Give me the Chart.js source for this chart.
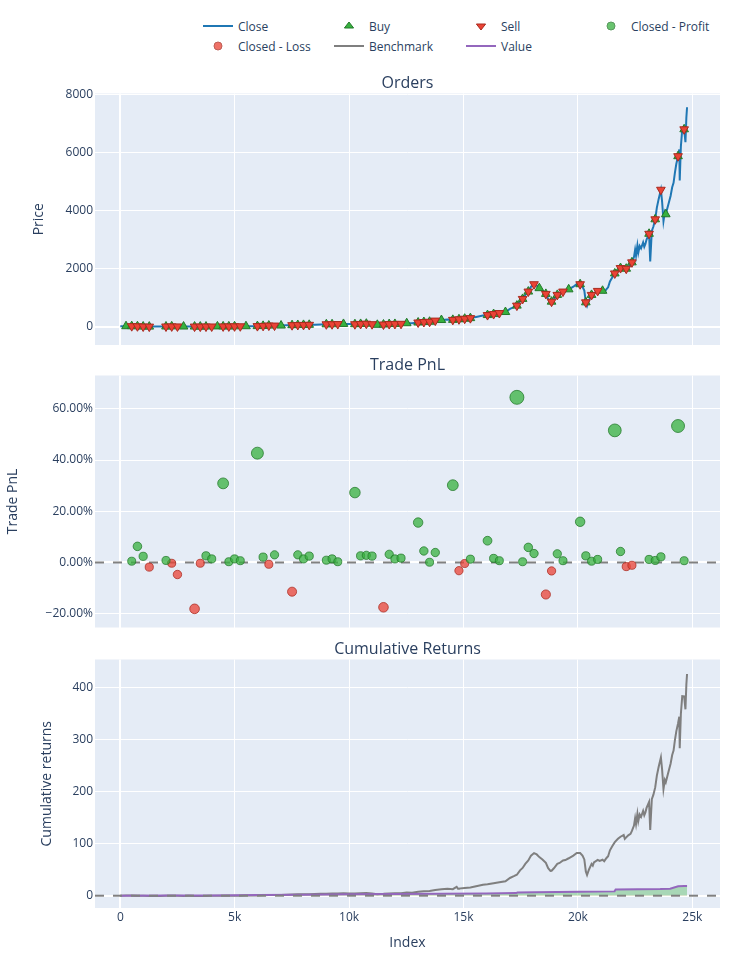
<!DOCTYPE html>
<html>
<head>
  <title>Portfolio Orders, Trade PnL and Cumulative Returns</title>
  <script src="https://cdn.jsdelivr.net/npm/chart.js"></script>
  <style>
    body { margin: 0; background: #fff; font-family: "Open Sans", verdana, arial, sans-serif; color: #2a3f5f; }
    #page { position: relative; width: 750px; height: 960px; overflow: hidden; }
    #page canvas { position: absolute; left: 0; }
    .legend-item { position: absolute; height: 20px; display: flex; align-items: center; font-size: 12px; white-space: nowrap; }
    .legend-item svg { display: block; }
  </style>
</head>
<body>
<div id="page">
  <div id="legend"></div>
  <canvas id="orders-chart" width="750" height="297" style="top:60px"></canvas>
  <canvas id="pnl-chart" width="750" height="298" style="top:342px"></canvas>
  <canvas id="returns-chart" width="750" height="334" style="top:626px"></canvas>
</div>
<script>
  // Close price (index, price)
  const closeIdx = [
    0, 250, 500, 750, 1000, 1266, 1500, 1750, 1997, 2247,
    2497, 2764, 3000, 3246, 3495, 3745, 3994, 4244, 4494, 4743,
    4993, 5243, 5492, 5750, 5992, 6241, 6491, 6741, 7026, 7250,
    7507, 7757, 8007, 8256, 8500, 8750, 9005, 9255, 9505, 9754,
    10000, 10254, 10503, 10753, 11003, 11234, 11502, 11752, 12002, 12269,
    12518, 12750, 13017, 13267, 13517, 13766, 14034, 14300, 14533, 14700,
    14760, 14801, 15051, 15300, 15600, 15850, 16049, 16316, 16566, 16833,
    17030, 17200, 17333, 17470, 17583, 17700, 17832, 17950, 18082, 18200,
    18313, 18450, 18599, 18700, 18800, 18849, 18950, 19099, 19200, 19348,
    19450, 19597, 19800, 19950, 20097, 20200, 20280, 20346, 20400, 20480,
    20596, 20650, 20700, 20863, 20950, 21077, 21150, 21250, 21320, 21400,
    21500, 21612, 21750, 21862, 22000, 22050, 22112, 22200, 22300, 22361,
    22450, 22500, 22540, 22600, 22640, 22700, 22760, 22850, 22900, 22950,
    23000, 23110, 23160, 23230, 23300, 23378, 23450, 23530, 23627, 23680,
    23740, 23800, 23841, 23900, 23950, 24050, 24120, 24180, 24240, 24300,
    24376, 24430, 24450, 24500, 24560, 24643, 24700, 24740, 24770
  ];
  const closeVal = [
    17.7, 22, 24, 20, 12, 8, 10, 11, 13, 16,
    15, 11, 12, 10, 9, 11, 13, 15, 16, 16,
    18, 20, 22, 24, 26, 34, 44, 44, 45, 52,
    58, 64, 67, 70, 75, 82, 88, 90, 96, 100,
    95, 91, 100, 108, 92, 70, 80, 96, 100, 105,
    125, 122, 150, 166, 175, 215, 235, 250, 240, 320,
    250, 260, 280, 300, 350, 390, 405, 440, 475, 510,
    620, 680, 730, 880, 960, 1100, 1213, 1380, 1466, 1420,
    1330, 1250, 1133, 950, 860, 866, 950, 1099, 1130, 1213,
    1230, 1290, 1380, 1470, 1466, 1380, 1250, 843, 720, 900,
    1099, 1040, 1150, 1236, 1200, 1240, 1190, 1300, 1360, 1560,
    1700, 1837, 1950, 2022, 2080, 1950, 2000, 2070, 2120, 2218,
    2400, 2650, 2450, 2800, 2550, 2780, 2700, 2900, 2750, 2850,
    3000, 3200, 2250, 3300, 3450, 3698, 4100, 4400, 4714, 4300,
    3640, 3950, 3871, 4050, 4200, 4500, 4800, 4950, 5300, 5600,
    5868, 6100, 5030, 6200, 6800, 6793, 6350, 7200, 7550
  ];

  // Closed trades: exit index, PnL (%) and the price of the sell order
  const tradeIdx = [
    499, 749, 999, 1266, 1997, 2247, 2497, 3246, 3495, 3745,
    3994, 4494, 4743, 4993, 5243, 5992, 6241, 6491, 6741, 7507,
    7757, 8007, 8256, 9005, 9255, 9505, 10254, 10503, 10753, 11003,
    11502, 11752, 12002, 12269, 13017, 13267, 13517, 13766, 14533, 14801,
    15051, 15300, 16049, 16316, 16566, 17333, 17583, 17832, 18082, 18599,
    18849, 19099, 19348, 20097, 20346, 20596, 20863, 21612, 21862, 22112,
    22361, 23110, 23378, 23627, 24376, 24643
  ];
  const tradePnl = [
    0.5, 6.3, 2.4, -1.8, 0.8, -0.3, -4.7, -18.1, -0.3, 2.6,
    1.4, 30.9, 0.3, 1.4, 0.7, 42.7, 2.1, -0.7, 3.0, -11.4,
    3.0, 1.4, 2.5, 0.9, 1.4, 0.3, 27.3, 2.6, 2.8, 2.5,
    -17.5, 3.2, 1.4, 1.7, 15.6, 4.5, 0.1, 3.9, 30.2, -3.2,
    -0.4, 1.3, 8.5, 1.6, 0.7, 64.5, 0.3, 5.9, 3.5, -12.5,
    -3.3, 3.4, 0.7, 15.9, 2.6, 0.5, 1.2, 51.6, 4.3, -1.6,
    -1.1, 1.2, 0.8, 2.2, 53.3, 0.7
  ];
  const sellPrice = [
    24, 20, 12, 8, 13, 16, 15, 10, 9, 11,
    13, 16, 16, 18, 20, 26, 34, 44, 44, 58,
    64, 67, 70, 88, 90, 96, 91, 100, 108, 92,
    80, 96, 100, 105, 150, 166, 175, 215, 240, 260,
    280, 300, 405, 440, 475, 730, 960, 1213, 1466, 1133,
    866, 1099, 1213, 1466, 843, 1099, 1236, 1837, 2022, 2000,
    2218, 3200, 3698, 4714, 5868, 6793
  ];

  // Buy orders
  const buyIdx = [
    250, 499, 749, 999, 1266, 1997, 2247, 2764, 3246, 3495,
    3745, 4244, 4494, 4743, 4993, 5492, 5992, 6241, 6491, 7026,
    7507, 7757, 8007, 8256, 9005, 9255, 9754, 10254, 10503, 10753,
    11234, 11502, 11752, 12002, 12518, 13017, 13267, 13517, 14034, 14533,
    14801, 15051, 15300, 16049, 16316, 16833, 17333, 17583, 17832, 18313,
    18599, 18849, 19099, 19597, 20097, 20346, 20596, 21077, 21612, 21862,
    22112, 22361, 23110, 23378, 23841, 24376, 24643
  ];
  const buyPrice = [
    22, 24, 20, 12, 8, 13, 16, 11, 10, 9,
    11, 15, 16, 16, 18, 22, 26, 34, 44, 45,
    58, 64, 67, 70, 88, 90, 100, 91, 100, 108,
    70, 80, 96, 100, 125, 150, 166, 175, 235, 240,
    260, 280, 300, 405, 440, 510, 730, 960, 1213, 1330,
    1133, 866, 1099, 1290, 1466, 843, 1099, 1240, 1837, 2022,
    2000, 2218, 3200, 3698, 3871, 5868, 6793
  ];

  // Strategy value, cumulative returns
  const valueIdx = [0, 2000, 4000, 6000, 8000, 10000, 12000, 14000, 16000, 17300, 17350, 18100, 20100, 21600, 21650, 23600, 24030, 24380, 24650, 24770];
  const valueRet = [0, 0.2, 0.6, 1.2, 2.0, 2.6, 3.2, 3.8, 4.4, 5.0, 6.0, 6.5, 7.5, 8.3, 12.0, 12.8, 13.5, 18.0, 18.5, 18.5];

  // Axis ticks
  const xTickVals = [0, 5000, 10000, 15000, 20000, 25000];
  const xTickText = ['0', '5k', '10k', '15k', '20k', '25k'];
  const priceTicks = [0, 2000, 4000, 6000, 8000];
  const pnlTicks = [-20, 0, 20, 40, 60];
  const retTicks = [0, 100, 200, 300, 400];

  const X_MIN = -1106, X_MAX = 26210;
  const GREEN = '#37b13f', GREEN_DARK = '#23782a';
  const RED = '#ea4335', RED_DARK = '#a92a1f';

  Chart.defaults.font.family = '"Open Sans", verdana, arial, sans-serif';
  Chart.defaults.font.size = 12;
  Chart.defaults.color = '#2a3f5f';
  Chart.defaults.animation = false;
  Chart.defaults.plugins.legend.display = false;
  Chart.defaults.plugins.tooltip.enabled = false;

  const plotBg = {
    id: 'plotBg',
    beforeDraw(chart) {
      const {ctx, chartArea: a} = chart;
      ctx.save();
      ctx.fillStyle = '#e5ecf6';
      ctx.fillRect(a.left, a.top, a.right - a.left, a.bottom - a.top);
      ctx.restore();
    }
  };

  const gridOpts = {
    color: '#fff',
    lineWidth: c => (c.tick && c.tick.value === 0) ? 2 : 1,
    drawTicks: false
  };

  // hidden-label x axes still keep room below the plot so the y labels never push the plot up
  function xAxis(withLabels) {
    return {
      type: 'linear', min: X_MIN, max: X_MAX,
      afterBuildTicks: s => { s.ticks = xTickVals.map(v => ({value: v})); },
      afterFit: s => {
        s.height = withLabels ? 52 : 12;
        s.paddingLeft = 0;
        s.paddingRight = 0;
      },
      grid: gridOpts,
      border: {display: false},
      ticks: {display: withLabels, padding: 2, maxRotation: 0, callback: v => xTickText[xTickVals.indexOf(v)]},
      title: {display: withLabels, text: 'Index', font: {size: 14}, padding: {top: 0, bottom: 8.6}}
    };
  }

  function yAxis(min, max, ticks, fmt, title, titlePad) {
    return {
      type: 'linear', min: min, max: max,
      afterBuildTicks: s => { s.ticks = ticks.map(v => ({value: v})); },
      afterFit: s => {
        s.width = 95;
        s.paddingTop = 0;
        s.paddingBottom = 0;
      },
      grid: gridOpts,
      border: {display: false},
      ticks: {padding: 2, callback: fmt},
      title: {display: true, text: title, font: {size: 14}, padding: {top: titlePad, bottom: 0}}
    };
  }

  function panelTitle(text) {
    return {display: true, text: text, fullSize: false, font: {size: 16, weight: 'normal'}, padding: {top: 14.3, bottom: 0}};
  }

  const toPoints = (xs, ys) => xs.map((x, i) => ({x: x, y: ys[i]}));

  // Orders
  new Chart(document.getElementById('orders-chart'), {
    type: 'scatter',
    data: {
      datasets: [{
        label: 'Sell',
        data: toPoints(tradeIdx, sellPrice),
        pointStyle: 'triangle', rotation: 180, pointRadius: 5,
        backgroundColor: RED, borderColor: RED_DARK, borderWidth: 1,
        order: 0
      }, {
        label: 'Buy',
        data: toPoints(buyIdx, buyPrice),
        pointStyle: 'triangle', pointRadius: 5,
        backgroundColor: GREEN, borderColor: GREEN_DARK, borderWidth: 1,
        order: 1
      }, {
        label: 'Close',
        data: toPoints(closeIdx, closeVal),
        showLine: true, pointRadius: 0,
        borderColor: '#1f77b4', borderWidth: 2,
        order: 2
      }]
    },
    options: {
      responsive: false,
      layout: {padding: {left: 0, right: 30, top: 0, bottom: 0}},
      plugins: {title: panelTitle('Orders')},
      scales: {
        x: xAxis(false),
        y: yAxis(-624, 8024, priceTicks, v => String(v), 'Price', 30.6)
      }
    },
    plugins: [plotBg]
  });

  // Trade PnL
  const maxPnl = Math.max(...tradePnl.map(Math.abs));
  const pnlRadius = c => 4 + 3 * Math.abs(c.raw.y) / maxPnl;
  const profitPts = toPoints(tradeIdx, tradePnl).filter(p => p.y >= 0);
  const lossPts = toPoints(tradeIdx, tradePnl).filter(p => p.y < 0);

  new Chart(document.getElementById('pnl-chart'), {
    type: 'scatter',
    data: {
      datasets: [{
        label: 'Closed - Profit',
        data: profitPts,
        pointRadius: pnlRadius,
        backgroundColor: 'rgba(55,177,63,0.75)', borderColor: 'rgba(35,120,42,0.75)', borderWidth: 1,
        order: 0
      }, {
        label: 'Closed - Loss',
        data: lossPts,
        pointRadius: pnlRadius,
        backgroundColor: 'rgba(234,67,53,0.75)', borderColor: 'rgba(169,42,31,0.75)', borderWidth: 1,
        order: 1
      }, {
        label: 'zero',
        data: [{x: X_MIN, y: 0}, {x: X_MAX, y: 0}],
        showLine: true, pointRadius: 0,
        borderColor: 'gray', borderWidth: 2, borderDash: [9, 9],
        order: 2
      }]
    },
    options: {
      responsive: false,
      layout: {padding: {left: 0, right: 30, top: 0, bottom: 0.5}},
      plugins: {title: panelTitle('Trade PnL')},
      scales: {
        x: xAxis(false),
        y: yAxis(-25.39, 73.03, pnlTicks, v => (v < 0 ? '\u2212' : '') + Math.abs(v).toFixed(2) + '%', 'Trade PnL', 4.4)
      }
    },
    plugins: [plotBg]
  });

  // Cumulative returns
  const benchmark = closeVal.map(v => v / closeVal[0] - 1);

  new Chart(document.getElementById('returns-chart'), {
    type: 'scatter',
    data: {
      datasets: [{
        label: 'zero',
        data: [{x: X_MIN, y: 0}, {x: X_MAX, y: 0}],
        showLine: true, pointRadius: 0,
        borderColor: 'gray', borderWidth: 2, borderDash: [9, 9],
        order: 0
      }, {
        label: 'Value',
        data: toPoints(valueIdx, valueRet),
        showLine: true, pointRadius: 0,
        borderColor: '#9467bd', borderWidth: 2,
        fill: {target: {value: 0}, above: 'rgba(55,177,63,0.35)', below: 'rgba(234,67,53,0.35)'},
        order: 1
      }, {
        label: 'Benchmark',
        data: toPoints(closeIdx, benchmark),
        showLine: true, pointRadius: 0,
        borderColor: '#7f7f7f', borderWidth: 2,
        order: 2
      }]
    },
    options: {
      responsive: false,
      layout: {padding: {left: 0, right: 30, top: 0, bottom: 0}},
      plugins: {title: panelTitle('Cumulative Returns')},
      scales: {
        x: xAxis(true),
        y: yAxis(-23.6, 453.4, retTicks, v => String(v), 'Cumulative returns', 38.6)
      }
    },
    plugins: [plotBg]
  });

  // Legend (two rows, four columns)
  const legendCols = [238, 369, 501, 631];
  const legendRows = [26, 46];
  const legendItems = [
    {label: 'Close', kind: 'line', color: '#1f77b4'},
    {label: 'Buy', kind: 'up', color: GREEN, edge: GREEN_DARK},
    {label: 'Sell', kind: 'down', color: RED, edge: RED_DARK},
    {label: 'Closed - Profit', kind: 'dot', color: GREEN, edge: GREEN_DARK},
    {label: 'Closed - Loss', kind: 'dot', color: RED, edge: RED_DARK},
    {label: 'Benchmark', kind: 'line', color: '#7f7f7f'},
    {label: 'Value', kind: 'line', color: '#9467bd'}
  ];

  function legendSymbol(it) {
    if (it.kind === 'line') return `<line x1="5" y1="10" x2="35" y2="10" stroke="${it.color}" stroke-width="2"/>`;
    if (it.kind === 'up') return `<polygon points="15.4,12 24.6,12 20,6" fill="${it.color}" stroke="${it.edge}" stroke-width="1"/>`;
    if (it.kind === 'down') return `<polygon points="15.4,8 24.6,8 20,14" fill="${it.color}" stroke="${it.edge}" stroke-width="1"/>`;
    return `<circle cx="20" cy="10" r="4" fill="${it.color}" stroke="${it.edge}" stroke-width="1" opacity="0.75"/>`;
  }

  const legendDiv = document.getElementById('legend');
  legendItems.forEach((it, i) => {
    const x = legendCols[i % 4] - 40;
    const y = legendRows[Math.floor(i / 4)] - 10;
    const el = document.createElement('div');
    el.className = 'legend-item';
    el.style.left = x + 'px';
    el.style.top = y + 'px';
    el.innerHTML = `<svg width="40" height="20">${legendSymbol(it)}</svg><span>${it.label}</span>`;
    legendDiv.appendChild(el);
  });
</script>
</body>
</html>
